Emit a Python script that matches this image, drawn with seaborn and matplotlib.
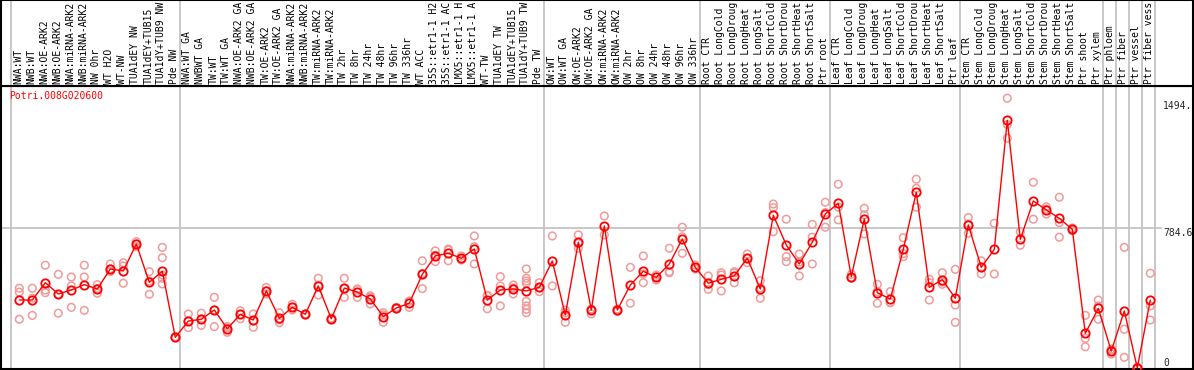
import matplotlib
matplotlib.use("Agg")
import matplotlib.pyplot as plt
import seaborn as sns
import pandas as pd
import numpy as np

# sample names as they show in the chart (long ones are cut at the top)
samples = [
    "NWA:WT", "NWB:WT", "NWA:OE-ARK2", "NWB:OE-ARK2", "NWA:miRNA-ARK2", "NWB:miRNA-ARK2",
    "NW 0hr", "WT H2O", "WT-NW", "TUA1dEY NW", "TUA1dEY+TUB15", "TUA1dY+TUB9 NW", "Pde NW",
    "NWA:WT GA", "NWBWT GA", "TW:WT", "TW:WT GA", "NWA:OE-ARK2 GA", "NWB:OE-ARK2 GA",
    "TW:OE-ARK2", "TW:OE-ARK2 GA", "NWA:miRNA-ARK2", "NWB:miRNA-ARK2", "TW:miRNA-ARK2",
    "TW:miRNA-ARK2", "TW 2hr", "TW 8hr", "TW 24hr", "TW 48hr", "TW 96hr", "TW 336hr",
    "WT ACC", "35S::etr1-1 H2", "35S::etr1-1 AC", "LMX5::etr1-1 H", "LMX5::etr1-1 A",
    "WT-TW", "TUA1dEY TW", "TUA1dEY+TUB15", "TUA1dY+TUB9 TW", "Pde TW",
    "OW:WT", "OW:WT GA", "OW:OE-ARK2", "OW:OE-ARK2 GA", "OW:miRNA-ARK2", "OW:miRNA-ARK2",
    "OW 2hr", "OW 8hr", "OW 24hr", "OW 48hr", "OW 96hr", "OW 336hr",
    "Root CTR", "Root LongCold", "Root LongDroug", "Root LongHeat", "Root LongSalt",
    "Root ShortCold", "Root ShortDrou", "Root ShortHeat", "Root ShortSalt", "Ptr root",
    "Leaf CTR", "Leaf LongCold", "Leaf LongDroug", "Leaf LongHeat", "Leaf LongSalt",
    "Leaf ShortCold", "Leaf ShortDrou", "Leaf ShortHeat", "Leaf ShortSalt", "Ptr leaf",
    "Stem CTR", "Stem LongCold", "Stem LongDroug", "Stem LongHeat", "Stem LongSalt",
    "Stem ShortCold", "Stem ShortDrou", "Stem ShortHeat", "Stem ShortSalt", "Ptr shoot",
    "Ptr xylem", "Ptr phloem", "Ptr fiber", "Ptr vessel", "Ptr fiber vess",
]

# mean expression per sample
means = [381, 381, 478, 415, 437, 467, 443, 555, 544, 695,
         480, 542, 172, 263, 273, 325, 220, 301, 269, 432,
         278, 340, 301, 460, 276, 448, 426, 387, 288, 336,
         363, 525, 628, 643, 615, 667, 381, 437, 443, 432,
         452, 600, 297, 705, 325, 796, 325, 465, 542, 508,
         583, 723, 564, 475, 497, 517, 615, 443, 856, 689,
         583, 705, 863, 923, 512, 835, 422, 387, 665, 985,
         452, 495, 391, 802, 564, 665, 1388, 721, 936, 886,
         839, 777, 194, 334, 95, 320, 0, 381]

# replicate values per sample
replicates = [
    [447, 425, 273], [447, 391, 295], [576, 437, 422], [525, 413, 307], [510, 460, 340],
    [576, 510, 323], [467, 445, 419], [583, 555, 540], [590, 572, 475], [708, 695, 680],
    [540, 487, 413], [676, 618, 521, 503, 471], [175, 172, 170], [303, 263, 226], [307, 273, 239],
    [396, 325, 232], [232, 225, 200], [321, 300, 276], [303, 265, 228], [452, 432, 415],
    [310, 270, 254], [357, 340, 325], [303, 300, 298], [503, 465, 409], [280, 276, 272],
    [503, 445, 396], [443, 439, 396], [405, 397, 359], [310, 298, 256], [340, 336, 332],
    [375, 374, 340], [601, 529, 445], [656, 632, 596], [667, 661, 601], [628, 612, 605],
    [740, 680, 583], [407, 404, 332], [512, 460, 348], [465, 449, 415],
    [555, 503, 488, 475, 373, 348, 329, 310],
    [478, 450, 428], [740, 460], [325, 310, 256], [746, 698, 671], [330, 325, 303],
    [852, 746], [330, 325, 318], [564, 363], [628, 527, 478], [521, 510, 493],
    [671, 540, 534], [789, 735, 643], [577, 559, 555], [516, 468, 441], [534, 521, 432],
    [540, 533, 478], [639, 615, 590], [489, 449, 391], [919, 899, 764], [834, 624, 596],
    [639, 594, 516], [805, 733, 583], [929, 871, 789], [1030, 901, 830], [525, 508, 503],
    [895, 859, 751], [469, 428, 363], [428, 367, 366], [730, 641, 624], [1058, 1007, 901],
    [497, 478, 381], [534, 482, 469], [553, 353, 256], [843, 808, 755], [601, 564, 527],
    [811, 527], [1512, 1365, 1288], [764, 688], [1041, 834], [904, 891, 863],
    [957, 815, 733], [785, 777, 770], [295, 166, 119], [381, 348, 273], [106, 101, 78],
    [676, 217, 60], [5, 0, 0], [531, 348, 269],
]

# group separators sit just after these sample positions
group_ends = [-1, 12, 40, 52, 62, 72, 83, 84, 85, 86, 87]
ref_line = 784.6
ytick_text = ["1494.", "784.6", "0"]
ytick_vals = [1494, 784.6, 0]
gene = "Potri.008G020600"

sns.set_style("white")
plt.rcParams["font.family"] = ["DejaVu Sans Mono"]
FS = 7.0

W, H = 1194, 370


def px_rect(x0, y0, x1, y1):
    return [x0 / W, 1 - y1 / H, (x1 - x0) / W, (y1 - y0) / H]


fig = plt.figure(figsize=(W / 100, H / 100), dpi=100)
ax = fig.add_axes(px_rect(1, 86, 1193, 369))
axl = fig.add_axes(px_rect(1, 0, 1193, 86))

X0, DX = 19.3, 13.0
xlim = ((1 - X0) / DX, (1193 - X0) / DX)
vpp = ref_line / 140.0
for a in (ax, axl):
    a.set_xlim(*xlim)
    a.set_xticks([])
    a.set_yticks([])
    for s in a.spines.values():
        s.set_visible(True)
        s.set_color("black")
        s.set_linewidth(1.5)
ax.set_ylim(-1 * vpp, 282 * vpp)
axl.set_ylim(0, 1)

for g in group_ends:
    for a in (ax, axl):
        a.axvline(g + 0.37, color="#c4c4c4", lw=1.3, zorder=1)
ax.axhline(ref_line, xmax=(1161 - 1) / 1192, color="#c4c4c4", lw=1.3, zorder=1)

rep_df = pd.DataFrame(
    [(i, v) for i, vals in enumerate(replicates) for v in vals], columns=["idx", "value"]
)
mean_df = pd.DataFrame({"idx": np.arange(len(means)), "value": means})

sns.scatterplot(data=rep_df, x="idx", y="value", ax=ax, marker="o", s=30,
                color="#f09a9a", facecolors="none", edgecolor="#f09a9a",
                linewidth=1.1, zorder=3, legend=False)
sns.lineplot(data=mean_df, x="idx", y="value", ax=ax, color="red", lw=1.0,
             marker="o", markersize=6, markerfacecolor="none",
             markeredgecolor="red", markeredgewidth=1.3, zorder=4, errorbar=None)
ax.set_xlabel("")
ax.set_ylabel("")
ax.set_xlim(*xlim)

for i, name in enumerate(samples):
    axl.text(i - 0.08, 0.02, name, rotation=90, ha="center", va="bottom",
             fontsize=FS, color="black", clip_on=True)

tx = (1163 - X0) / DX
for t, v in zip(ytick_text, ytick_vals):
    ax.text(tx, v, t, ha="left", va="bottom" if v == 0 else "top", fontsize=FS)

ax.text((9 - X0) / DX, (368 - 91) * vpp, gene, color="red", ha="left", va="top", fontsize=FS)

fig.savefig("out.png", dpi=100)
